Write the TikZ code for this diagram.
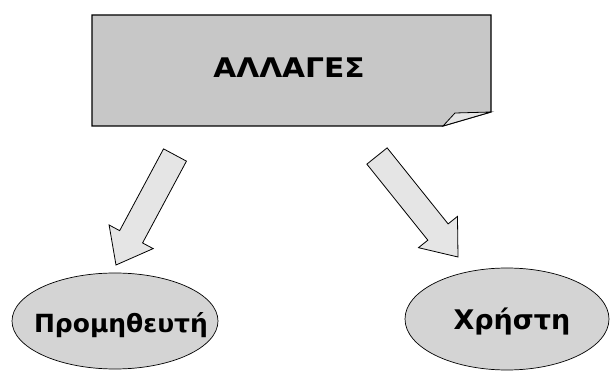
\documentclass[tikz,border=0pt]{standalone}
\usepackage{fontspec}
\setmainfont{DejaVu Sans}
\usetikzlibrary{calc,shapes.geometric}
\tikzset{
  banner/.style={draw=black, line width=1.1pt, fill=black!22},
  fold/.style={draw=black, line width=0.8pt, fill=black!10},
  oval/.style={ellipse, draw=black, line width=0.7pt, fill=black!17, inner sep=0pt},
  blockarrow/.style={draw=black, line width=0.8pt, fill=black!10, line join=miter},
  lbl/.style={font=\bfseries\fontsize{27}{30}\selectfont, text=black},
  lblsmall/.style={font=\bfseries\fontsize{25}{28}\selectfont, text=black},
}
\newcommand{\blockarr}[2]{%
  \coordinate (h#1) at ($(#2)!32pt!(t#1)$);
  \path[blockarrow]
    ($(t#1)!13pt!90:(#2)$) -- ($(h#1)!13pt!-90:(t#1)$) -- ($(h#1)!25pt!-90:(t#1)$) -- (#2)
    -- ($(h#1)!25pt!90:(t#1)$) -- ($(h#1)!13pt!90:(t#1)$) -- ($(t#1)!13pt!-90:(#2)$) -- cycle;
}
\begin{document}
\begin{tikzpicture}[x=1pt,y=-1pt]
\useasboundingbox (0,0) rectangle (614,374);
% banner box
\coordinate (b1) at (92,15);
\coordinate (b2) at (491,15);
\coordinate (b3) at (491,112);
\coordinate (b4) at (443,126);
\coordinate (b5) at (92,126);
\coordinate (bf) at (455,113);
\path[banner] (b1) -- (b2) -- (b3) -- (b4) -- (b5) -- cycle;
\path[fold] (b4) -- (bf) -- (b3) -- cycle;
\node[lbl] (title) at (289,68) {\scalebox{1.1}[1]{ΑΛΛΑΓΕΣ}};
% ellipses
\node[oval, minimum width=206pt, minimum height=96pt] (prom) at (115,321) {};
\node[lblsmall] (promtxt) at (121,325) {Προμηθευτή};
\node[oval, minimum width=204pt, minimum height=102pt] (xr) at (507,319) {};
\node[lbl] (xrtxt) at (512,322) {Χρήστη};
% block arrows
\coordinate (tA) at (175,155);
\coordinate (pA) at (116,265);
\blockarr{A}{pA}
\coordinate (tB) at (377,156);
\coordinate (pB) at (458,257);
\blockarr{B}{pB}
\end{tikzpicture}
\end{document}
